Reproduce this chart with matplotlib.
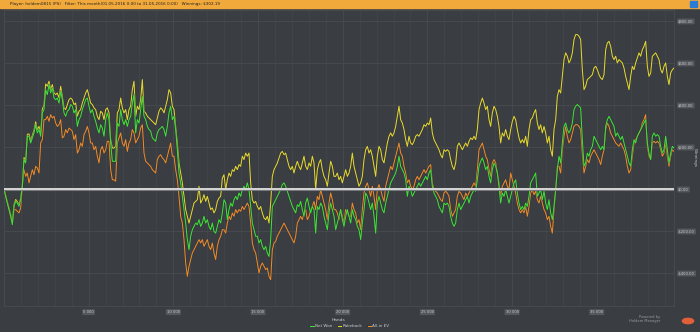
import numpy as np
import matplotlib.pyplot as plt
import matplotlib.patheffects as pe
from matplotlib.ticker import FuncFormatter, MultipleLocator

# winnings in $, one point about every 98 hands
net_won = [
    0, -35, -67, -98, -130, -170, -83, -59, -67, -83, -51, 13, 140, 124, 251, 251, 219, 243, 267, 306,
    267, 283, 251, 362, 378, 473, 449, 497, 457, 481, 433, 425, 433, 409, 465, 425, 362, 346, 370, 378,
    402, 394, 362, 378, 298, 330, 346, 378, 402, 425, 433, 394, 362, 378, 346, 322, 290, 267, 306, 290,
    251, 330, 362, 330, 219,
    132, 132, 132, 314, 298, 378, 330, 306, 330, 298, 330, 346, 409, 449, 267, 330, 314, 378, 441, 346,
    330, 298, 283, 275, 243, 235, 227, 267, 283, 290, 298, 283, 251, 298, 362, 394, 330, 346, 283, 187,
    76, 29, -35, -98, -162, -241, -289, -225, -194, -178, -162, -170, -146, -178, -162, -130, -162, -146, -178, -194,
    -162, -202, -210, -178, -146, -162, -114,
    -51, -67, -146, -98, -67, -83, -51, -35, -51, -19, -35, -3, 13, -3, 29, -3, -83, -162, -194, -225,
    -225, -257, -241, -273, -289, -273, -305, -321, -241, -83, -67, -51, -35, -19, -3, 21, 29, 13, -11, -35,
    -59, -83, -98, -114, -75, -83, -59, -98, -130, -67, -43, -83, -114, -83, -98, -210, -83, -98, -67, -83,
    -130, -162, -194, -114, -67, -98, -130,
    -194, -162, -130, -98, -146, -178, -130, -98, -130, -162, -98, -130, -146, -178, -194, -241, -162, -98, -19, -35,
    -67, -98, -67, -130, -210, -67, -35, -67, -98, -114, -67, -35, -3, 29, 44, 60, 76, 108, 156, 108,
    92, 76, 44, -35, 13, -3, -35, -19, -3, 13, 29, 13, 29, 44, 60, 44, 76, 92, 13, -19,
    -35, -51, -83, -98, -114, -67, -75,
    -67, -83, -130, -162, -178, -162, -98, -67, -98, -83, -67, -51, -35, -67, -35, -19, -3, -11, 44, 108,
    132, 148, 124, 92, 108, 60, 29, 92, 124, 108, 76, 13, -67, -19, -35, -3, -35, -67, -35, -3,
    29, 44, -19, -67, -98, -83, -98, -67, -83, -35, 29, 44, 60, 76, -35, -19, -3, -51, -11, -67,
    -98, -51, -114, -146, -83, -3, 92,
    156, 124, 219, 298, 314, 283, 267, 283, 314, 378, 394, 402, 394, 386, 235, 108, 124, 171, 156, 187,
    203, 251, 235, 219, 203, 187, 203, 187, 298, 330, 346, 330, 314, 298, 251, 267, 251, 235, 251, 219,
    187, 156, 124, 108, 187, 235, 219, 251, 267, 283, 298, 314, 330, 219, 171, 140, 251, 267, 251, 259,
    251, 203, 171, 187, 251, 187, 124, 171, 203, 195,
]

rakeback = [
    0, -30, -60, -90, -120, -155, -75, -50, -60, -75, -45, 20, 150, 135, 260, 262, 230, 255, 280, 320,
    282, 298, 268, 380, 400, 500, 489, 513, 473, 497, 457, 449, 457, 433, 489, 441, 386, 378, 402, 425,
    433, 425, 402, 409, 346, 370, 378, 409, 433, 457, 473, 441, 409, 402, 386, 378, 346, 330, 370, 362,
    330, 378, 386, 362, 235,
    195, 195, 203, 362, 378, 433, 386, 362, 378, 330, 378, 394, 473, 513, 346, 394, 378, 425, 521, 370,
    362, 346, 338, 330, 322, 314, 306, 338, 370, 386, 378, 362, 394, 425, 473, 457, 394, 378, 298, 219,
    124, 76, 29, -35, -98, -130, -162, -130, -98, -67, -59, -51, 13, -67, -51, -27, -59, -35, -67, -98,
    -90, -114, -98, -59, -43, -35, 52,
    68, -3, 44, 76, 60, 92, 84, 108, 92, 116, 108, 156, 140, 171, 156, 171, 29, -51, -67, -59,
    -83, -98, -83, -114, -138, -146, -130, -162, -67, 60, 92, 108, 124, 148, 171, 179, 163, 171, 140, 108,
    92, 108, 76, 108, 132, 108, 92, 124, 156, 108, 92, 124, 108, 156, 124, -3, 92, 124, 140, 92,
    60, 44, 13, 76, 132, 108, 60,
    60, 76, 44, 60, 29, 60, 92, 60, 76, 108, 171, 108, 76, 44, 13, 29, 60, 140, 187, 203,
    171, 187, 156, 108, 60, 156, 203, 187, 140, 124, 171, 219, 251, 267, 251, 267, 298, 346, 394, 330,
    314, 283, 235, 203, 251, 219, 211, 227, 251, 259, 251, 267, 283, 306, 298, 314, 306, 338, 267, 235,
    219, 203, 187, 163, 148, 187, 179,
    187, 179, 140, 108, 92, 124, 203, 219, 203, 187, 203, 219, 203, 227, 243, 235, 251, 235, 283, 378,
    409, 433, 409, 378, 394, 330, 298, 362, 394, 378, 346, 298, 219, 267, 251, 283, 251, 235, 283, 322,
    346, 330, 283, 243, 219, 235, 219, 251, 203, 283, 330, 338, 362, 378, 314, 283, 306, 267, 298, 267,
    219, 251, 187, 156, 283, 330, 441,
    473, 457, 536, 616, 648, 632, 600, 616, 648, 711, 735, 735, 727, 711, 568, 473, 489, 521, 528, 536,
    544, 576, 584, 568, 544, 528, 521, 544, 663, 695, 703, 679, 632, 616, 632, 600, 616, 608, 600, 576,
    536, 505, 473, 536, 584, 568, 600, 624, 648, 632, 663, 679, 703, 584, 536, 552, 632, 640, 648, 632,
    616, 568, 552, 584, 600, 536, 497, 552, 568, 576,
]

allin_ev = [
    0, -35, -67, -98, -130, -160, -100, -98, -106, -114, -90, 13, 92, 60, 76, 29, 60, 92, 68, 108,
    100, 76, 219, 235, 330, 330, 346, 322, 354, 338, 346, 314, 298, 306, 330, 243, 251, 283, 267, 290,
    283, 275, 235, 259, 171, 187, 219, 203, 259, 275, 298, 267, 219, 219, 187, 203, 156, 124, 187, 203,
    171, 187, 227, 227, 92,
    44, 44, 37, 219, 243, 267, 219, 203, 235, 179, 219, 235, 283, 267, 219, 235, 251, 290, 306, 171,
    132, 124, 116, 108, 92, 84, 76, 140, 156, 163, 148, 140, 124, 156, 187, 219, 156, 156, 92, 44,
    -35, -130, -162, -241, -352, -416, -368, -336, -305, -289, -273, -257, -241, -257, -241, -273, -257, -241, -273, -289,
    -257, -305, -336, -273, -241, -225, -194,
    -194, -210, -162, -130, -146, -114, -130, -98, -114, -98, -106, -83, -98, -83, -67, -83, -162, -257, -289, -305,
    -352, -400, -368, -352, -368, -384, -376, -416, -432, -289, -257, -249, -225, -210, -194, -178, -162, -178, -194, -210,
    -225, -241, -257, -225, -162, -146, -130, -146, -114, -98, -146, -130, -98, -83, -59, -98, -35, -51, -3, -35,
    -67, -98, -146, -67, -19, -51, -98,
    -98, -114, -146, -98, -130, -162, -98, -114, -130, -130, -67, -98, -114, -162, -146, -194, -98, -19, 13, 29,
    -3, -35, 13, -35, -98, -3, 21, -3, -35, -59, 13, 44, 76, 108, 92, 124, 156, 187, 219, 171,
    156, 108, 76, 29, 44, 13, -3, 13, 44, 60, 44, 60, 76, 92, 76, 92, 108, 116, 29, -3,
    -11, -19, -35, -51, -59, -19, -11,
    -19, -35, -98, -130, -114, -98, -35, -11, -19, -35, -51, -19, -35, -19, -3, 13, 29, 13, 92, 187,
    203, 219, 187, 156, 140, 92, 60, 124, 140, 124, 76, 29, -35, 13, 29, 44, 13, -3, 76, 44,
    13, -19, -67, -98, -114, -98, -114, -83, -130, -83, -19, -3, -27, -11, -51, -67, -35, -67, -98, -114,
    -146, -130, -178, -210, -98, -3, 108,
    108, 76, 187, 251, 298, 251, 219, 235, 267, 298, 306, 306, 298, 283, 171, 76, 108, 140, 124, 156,
    171, 187, 171, 156, 140, 116, 156, 187, 283, 314, 298, 267, 251, 235, 219, 211, 203, 219, 203, 187,
    156, 108, 76, 92, 156, 219, 235, 251, 267, 283, 314, 330, 354, 203, 156, 140, 219, 227, 219, 227,
    219, 187, 156, 171, 219, 156, 108, 156, 187, 179,
]

total_hands = 39560
hands = np.linspace(0, total_hands, len(net_won))

bg = '#3a3d41'
txt_c = '#c9cacc'

fig = plt.figure(figsize=(7, 3.32), dpi=100)
fig.patch.set_facecolor(bg)
ax = fig.add_axes([4 / 700, 1 - 306 / 332, 670 / 700, 296 / 332])
ax.set_facecolor(bg)

# orange header bar
fig.patches.append(plt.Rectangle((0, 1 - 8 / 332), 1, 8 / 332, transform=fig.transFigure,
                                 color='#f2a93b', zorder=0))
fig.text(10 / 700, 1 - 4 / 332,
         'Player: holdem0815 (PS)   Filter: This month(01.05.2016 0:00 to 31.05.2016 0:00)   Winnings: $302.19',
         fontsize=3, color='#222222', va='center', ha='left')
fig.patches.append(plt.Rectangle((690 / 700, 1 - 7 / 332), 7 / 700, 6 / 332, transform=fig.transFigure,
                                 color='#2a7bd4', zorder=1))

ax.axhline(0, color='#dcdcdc', lw=1.3, zorder=5,
           path_effects=[pe.Stroke(linewidth=2.2, foreground='#77797d'), pe.Normal()])

shadow = [pe.Stroke(linewidth=1.4, foreground='#2e3033', alpha=0.5), pe.Normal()]
ax.plot(hands, rakeback, color='#e3d633', lw=0.75, zorder=3, label='Rakeback', path_effects=shadow)
ax.plot(hands, allin_ev, color='#ec8a2c', lw=0.75, zorder=3, label='All-in EV', path_effects=shadow)
ax.plot(hands, net_won, color='#3fe03a', lw=0.75, zorder=4, label='Net Won', path_effects=shadow)

ax.set_xlim(0, total_hands)
ax.set_ylim(-557, 852)
ax.xaxis.set_major_locator(MultipleLocator(5000))
ax.xaxis.set_minor_locator(MultipleLocator(1000))
ax.yaxis.set_major_locator(MultipleLocator(200))
ax.grid(True, which='major', color='#484b50', lw=0.6)
ax.grid(True, which='minor', axis='x', color='#43464b', lw=0.5)
ax.set_axisbelow(True)
for s in ax.spines.values():
    s.set_color('#484b50')
    s.set_linewidth(0.6)

ax.yaxis.tick_right()


def money(v, pos):
    return '-${:,.2f}'.format(-v) if v < 0 else '${:,.2f}'.format(v)


ax.yaxis.set_major_formatter(FuncFormatter(money))
ax.xaxis.set_major_formatter(FuncFormatter(lambda v, p: '' if v == 0 else '{:,.0f}'.format(v).replace(',', ' ')))
ax.tick_params(which='both', length=0, labelsize=2.7, labelcolor=txt_c, pad=3)
box = dict(boxstyle='round,pad=0.25', fc='#55585d', ec='none')
for lab in ax.get_yticklabels() + ax.get_xticklabels():
    lab.set_bbox(box)
fig.text(695 / 700, 1 - 157 / 332, 'Winnings', fontsize=3, color=txt_c, rotation=270,
         ha='center', va='center')
ax.set_xlabel('Hands', fontsize=3.2, color=txt_c, labelpad=3)

h, l = ax.get_legend_handles_labels()
order = [2, 0, 1]
leg = fig.legend([h[i] for i in order], [l[i] for i in order], loc='center', bbox_to_anchor=(0.5, 1 - 326 / 332),
                 ncol=3, fontsize=3, frameon=False, handlelength=0.8, columnspacing=1.2, handletextpad=0.4)
for t in leg.get_texts():
    t.set_color(txt_c)

fig.text(660 / 700, 1 - 319 / 332, 'Powered by\nHoldem Manager', fontsize=2.6, color='#9a9b9d',
         ha='right', va='center', linespacing=1.1)
fig.patches.append(plt.Circle((688 / 700, 1 - 321 / 332), 0.008, transform=fig.transFigure,
                              color='#e0603a', zorder=2))

fig.savefig('out.png', dpi=100, facecolor=bg)
